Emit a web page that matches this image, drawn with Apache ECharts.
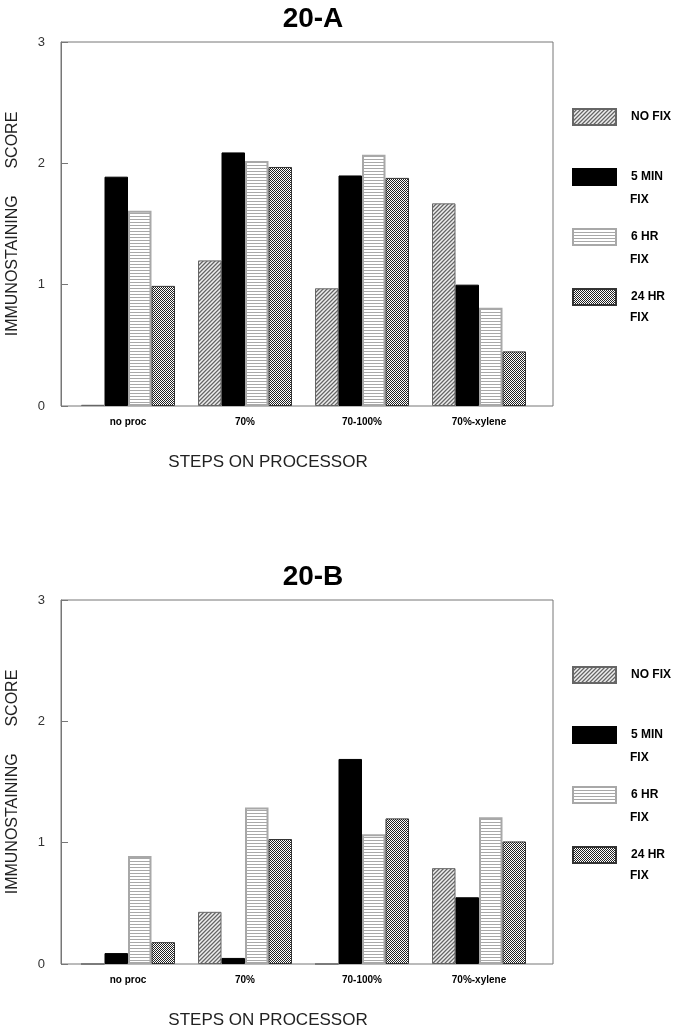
<!DOCTYPE html>
<html>
<head>
<meta charset="utf-8">
<script src="https://cdn.jsdelivr.net/npm/echarts@6/dist/echarts.min.js"></script>
<style>
html,body{margin:0;padding:0;background:#fff;}
#chart{width:679px;height:1028px;}
</style>
</head>
<body>
<div id="chart"></div>
<script>
// ---- data ----
var categories = ['no proc', '70%', '70-100%', '70%-xylene'];
var seriesNames = ['NO FIX', '5 MIN FIX', '6 HR FIX', '24 HR FIX'];
var yTicks = [0, 1, 2, 3];

var noFixA = [0.01, 1.20, 0.97, 1.67];
var min5A  = [1.89, 2.09, 1.90, 1.00];
var hr6A   = [1.61, 2.02, 2.07, 0.81];
var hr24A  = [0.99, 1.97, 1.88, 0.45];

var noFixB = [0, 0.43, 0, 0.79];
var min5B  = [0.09, 0.05, 1.69, 0.55];
var hr6B   = [0.89, 1.29, 1.07, 1.21];
var hr24B  = [0.18, 1.03, 1.20, 1.01];

(function () {
// ---- patterns ----
function makePattern(w, h, fn) {
  var c = document.createElement('canvas');
  c.width = w; c.height = h;
  var ctx = c.getContext('2d');
  fn(ctx);
  return c.toDataURL('image/png');
}
var diagPat = makePattern(4, 4, function (ctx) {
  for (var x = 0; x < 4; x++) for (var y = 0; y < 4; y++) {
    var k = (x + y) % 4;
    ctx.fillStyle = k === 3 ? '#666' : (k === 0 ? '#a0a0a0' : (k === 2 ? '#c4c4c4' : '#ececec'));
    ctx.fillRect(x, y, 1, 1);
  }
});
var horizPat = makePattern(4, 3, function (ctx) {
  ctx.fillStyle = '#fff'; ctx.fillRect(0, 0, 4, 3);
  ctx.fillStyle = '#a8a8a8'; ctx.fillRect(0, 0, 4, 1);
});
var checkPat = makePattern(2, 2, function (ctx) {
  ctx.fillStyle = '#fff'; ctx.fillRect(0, 0, 2, 2);
  ctx.fillStyle = '#222'; ctx.fillRect(0, 0, 1, 1); ctx.fillRect(1, 1, 1, 1);
});

function styleFor(s) {
  if (s === 0) return {color: {image: diagPat, repeat: 'repeat'}, borderColor: '#666', borderWidth: 1};
  if (s === 1) return {color: '#000', borderColor: '#000', borderWidth: 1};
  if (s === 2) return {color: {image: horizPat, repeat: 'repeat'}, borderColor: '#a8a8a8', borderWidth: 2};
  return {color: {image: checkPat, repeat: 'repeat'}, borderColor: '#333', borderWidth: 1};
}

var FONT = 'Liberation Sans, Arial, sans-serif';
var gridTops = [42, 600];
var plotH = 364;
var dataSets = [[noFixA, min5A, hr6A, hr24A], [noFixB, min5B, hr6B, hr24B]];
var titles = ['20-A', '20-B'];
var legendLabels = {'NO FIX': 'NO FIX', '5 MIN FIX': '5 MIN', '6 HR FIX': '6 HR', '24 HR FIX': '24 HR'};

var grid = [], xAxis = [], yAxis = [], series = [], title = [], legend = [], graphic = [];

for (var c = 0; c < 2; c++) {
  var gTop = gridTops[c];
  var off = c * 558;
  grid.push({left: 61, top: gTop, width: 492, height: plotH, show: true, borderColor: '#777', borderWidth: 1,
    backgroundColor: 'transparent', containLabel: false, outerBoundsMode: 'none'});
  grid.push({left: 69.5, top: gTop, width: 468, height: plotH, containLabel: false, outerBoundsMode: 'none'});
  xAxis.push({gridIndex: 2 * c, type: 'value', min: 0, max: 1, show: false});
  xAxis.push({
    gridIndex: 2 * c + 1, type: 'category', data: categories,
    axisLine: {show: false}, axisTick: {show: false},
    axisLabel: {margin: 11, fontSize: 10, fontWeight: 'bold', color: '#000', fontFamily: FONT}
  });
  yAxis.push({
    gridIndex: 2 * c, type: 'value', min: yTicks[0], max: yTicks[yTicks.length - 1], interval: 1,
    axisLine: {show: true, lineStyle: {color: '#777'}},
    axisTick: {show: true, inside: true, length: 7, lineStyle: {color: '#777'}},
    splitLine: {show: false},
    axisLabel: {margin: 16, fontSize: 13, color: '#333', fontFamily: FONT},
    name: 'IMMUNOSTAINING      SCORE', nameLocation: 'middle', nameGap: 40,
    nameTextStyle: {fontSize: 16, color: '#222', fontFamily: FONT}
  });
  yAxis.push({gridIndex: 2 * c + 1, type: 'value', min: 0, max: 3, show: false});
  for (var s = 0; s < 4; s++) {
    series.push({
      type: 'bar', name: seriesNames[s], xAxisIndex: 2 * c + 1, yAxisIndex: 2 * c + 1,
      data: dataSets[c][s].slice(), barWidth: 23.5, barGap: '0%',
      itemStyle: styleFor(s), emphasis: {disabled: true}, animation: false
    });
  }
  title.push({text: titles[c], left: 313, top: 5 + off, textAlign: 'center', padding: 0,
    textStyle: {fontSize: 28, fontWeight: 'bold', color: '#000', fontFamily: FONT}});
  title.push({text: 'STEPS ON PROCESSOR', left: 268, top: 454 + off, textAlign: 'center', padding: 0,
    textStyle: {fontSize: 17, fontWeight: 'normal', color: '#222', fontFamily: FONT}});
  legend.push({
    data: seriesNames.slice(), orient: 'vertical', left: 572, top: 108 + off, padding: 0,
    icon: 'rect', itemWidth: 43, itemHeight: 16, itemGap: 42, selectedMode: false,
    formatter: function (n) { return legendLabels[n]; },
    textStyle: {fontSize: 12, fontWeight: 'bold', color: '#000', fontFamily: FONT, padding: [10, 0, 0, 10]}
  });
  var fixY = [201, 261, 319];
  for (var f = 0; f < 3; f++) {
    graphic.push({type: 'text', left: 630, top: fixY[f] - 7 + off,
      style: {text: 'FIX', fontSize: 12, fontWeight: 'bold', fill: '#000', fontFamily: FONT}});
  }
}

var chart = echarts.init(document.getElementById('chart'), null, {renderer: 'canvas'});
chart.setOption({
  animation: false,
  backgroundColor: '#fff',
  title: title, grid: grid, xAxis: xAxis, yAxis: yAxis, series: series,
  legend: legend, graphic: graphic
});
})();
</script>
</body>
</html>
